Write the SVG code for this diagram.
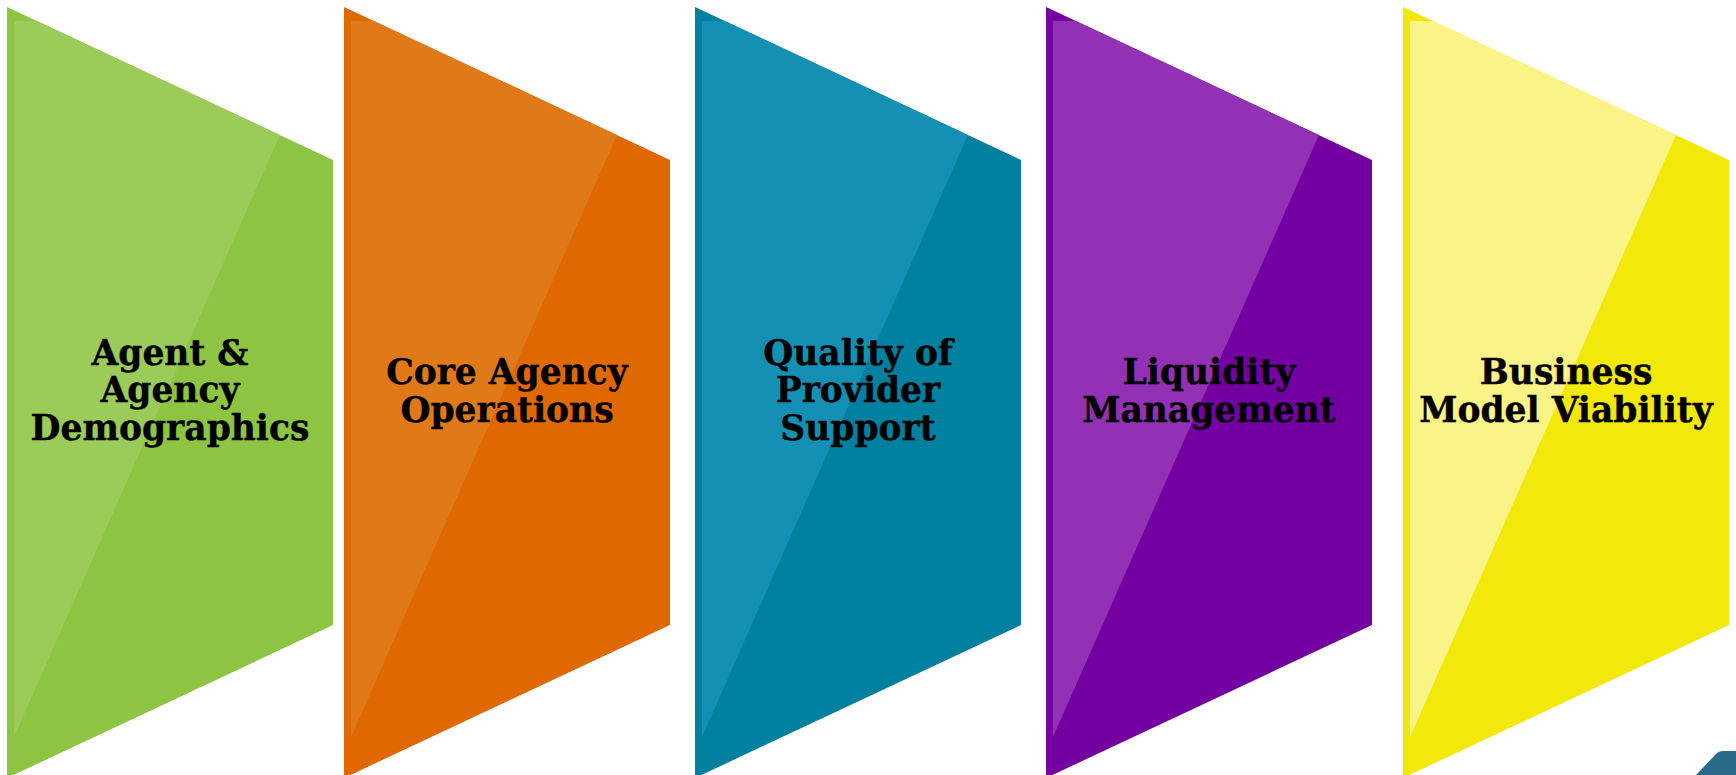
<svg xmlns="http://www.w3.org/2000/svg" width="1736" height="775" viewBox="0 0 1736 775">
  <style>
    .label { font-family: "DejaVu Serif", "Liberation Serif", serif; font-weight: bold; font-size: 34.5px; fill: #000; stroke: #000; stroke-width: 0.4; text-anchor: middle; }
  </style>
  <defs>
    <!-- one panel: trapezoid body and its glossy highlight -->
    <polygon id="body" points="0,7 326,160 326,625 0,778"/>
    <polygon id="gloss" points="7,21 30,21 273,135 7,737"/>
  </defs>
  <rect width="1736" height="775" fill="#fff"/>

  <g id="panel-demographics" transform="translate(7,0)">
    <use href="#body" fill="#8DC543"/>
    <use href="#gloss" fill="#9BCB58"/>
    <text class="label" x="163" y="365">Agent &amp;</text>
    <text class="label" x="163" y="402">Agency</text>
    <text class="label" x="163" y="440">Demographics</text>
  </g>

  <g id="panel-operations" transform="translate(344,0)">
    <use href="#body" fill="#E06800"/>
    <use href="#gloss" fill="#E07A19"/>
    <text class="label" x="163" y="384">Core Agency</text>
    <text class="label" x="163" y="422">Operations</text>
  </g>

  <g id="panel-support" transform="translate(695,0)">
    <use href="#body" fill="#00809F"/>
    <use href="#gloss" fill="#1390B3"/>
    <text class="label" x="163" y="365">Quality of</text>
    <text class="label" x="163" y="402">Provider</text>
    <text class="label" x="163" y="440">Support</text>
  </g>

  <g id="panel-liquidity" transform="translate(1046,0)">
    <use href="#body" fill="#7400A2"/>
    <use href="#gloss" fill="#9231B3"/>
    <text class="label" x="163" y="384">Liquidity</text>
    <text class="label" x="163" y="422">Management</text>
  </g>

  <g id="panel-viability" transform="translate(1403,0)">
    <use href="#body" fill="#F2E80A"/>
    <use href="#gloss" fill="#FAF385"/>
    <text class="label" x="163" y="384">Business</text>
    <text class="label" x="163" y="422">Model Viability</text>
  </g>

  <g id="connectors"/>

  <!-- corner tab at lower right -->
  <path id="corner-tab" d="M1696,775 L1717,753 Q1719,751 1723,751 L1736,751 L1736,775 Z" fill="#2A6B8A"/>
</svg>
